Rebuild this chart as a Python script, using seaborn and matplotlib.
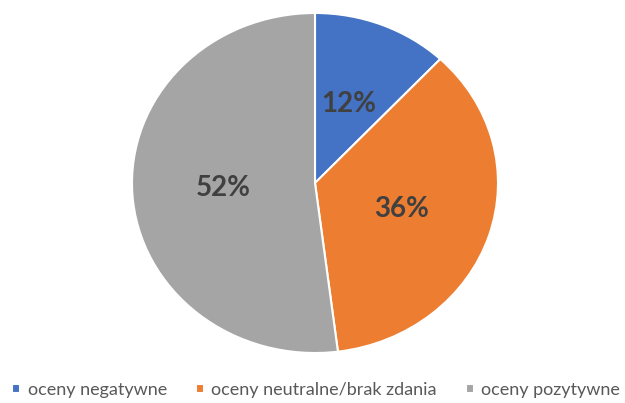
import matplotlib
matplotlib.use("Agg")
import numpy as np
import matplotlib.pyplot as plt
import seaborn as sns

# ── data ──────────────────────────────────────────────
categories = ["oceny negatywne", "oceny neutralne/brak zdania", "oceny pozytywne"]
shares = [12, 36, 52]
colors = ["#4472C4", "#ED7D31", "#A5A5A5"]

# ── style ─────────────────────────────────────────────
sns.set_theme(style="white")
plt.rcParams["font.family"] = ["Lato", "DejaVu Sans"]

fig = plt.figure(figsize=(6.25, 4.03), dpi=100)
# the source image is slightly stretched horizontally -> elliptical pie
ax = fig.add_axes([132 / 625, 50 / 403, 366 / 625, 340 / 403])

wedges, texts, autotexts = ax.pie(
    shares, colors=colors, startangle=90, counterclock=False,
    autopct="%1.0f%%", pctdistance=0.5,
    wedgeprops=dict(edgecolor="white", linewidth=1.5),
    textprops=dict(color="#404040", fontsize=20, fontweight="bold"),
)

ax.set_aspect("auto")
ax.set_xlim(-1, 1)
ax.set_ylim(-1, 1)
ax.axis("off")

fig.legend(wedges, categories, loc="center", bbox_to_anchor=(316 / 625, 13 / 403),
           ncol=3, frameon=False, fontsize=13, labelcolor="#595959",
           handlelength=0.45, handleheight=0.45, handletextpad=0.4,
           columnspacing=1.6)

fig.savefig("out.png", dpi=100, facecolor="white")
